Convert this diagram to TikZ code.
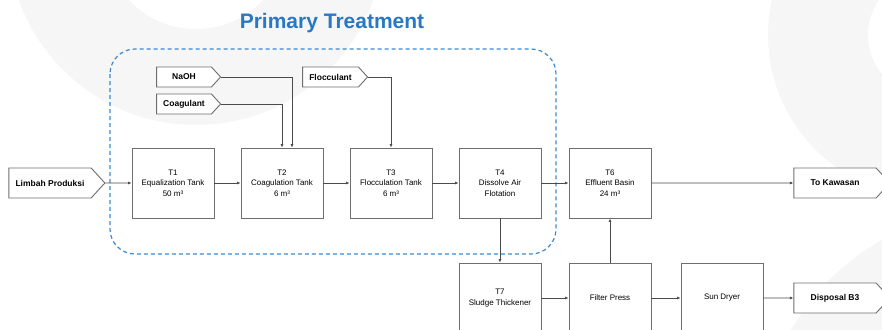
\documentclass[tikz,border=0pt]{standalone}
\usepackage{fontspec}
\setmainfont{Liberation Sans}
\usetikzlibrary{shapes.symbols,arrows.meta}

\begin{document}
\begin{tikzpicture}[x=1pt, y=-1pt, thick]

  % Define Colors
  \definecolor{bggray}{HTML}{F6F6F6}
  \definecolor{boxgray}{HTML}{6E6E6E}
  \definecolor{linegray}{HTML}{4A4A4A}
  \definecolor{ptblue}{HTML}{3B8AD0}
  \definecolor{titleblue}{HTML}{2878C4}

  % Node styles
  \tikzstyle{tank}=[rectangle, draw=boxgray, line width=0.9pt, fill=white, minimum width=82pt, minimum height=70pt, align=center, font=\fontsize{8}{10.5}\selectfont]
  \tikzstyle{feed}=[signal, signal to=east, signal pointer angle=95, draw=boxgray, line width=0.9pt, fill=white, inner sep=0pt, font=\bfseries\fontsize{8.5}{10}\selectfont]
  \tikzstyle{flow}=[line width=0.8pt, linegray, -{Latex[length=3.5pt,width=3pt]}]
  \tikzstyle{group}=[ptblue, line width=1.2pt, dash pattern=on 4pt off 3pt, rounded corners=25pt]

  \clip (0,0) rectangle (882,329);

  % Background
  \fill[bggray, even odd rule] (196,-63) circle (188) (196,-63) circle (92);
  \fill[bggray, even odd rule] (930,35) circle (162) (930,35) circle (62);
  \fill[bggray] (1000,450) circle (241);

  % Primary treatment group
  \draw[group] (110,49) rectangle (556,254);
  \node[titleblue, font=\bfseries\fontsize{21}{25}\selectfont] (title) at (332,23) {Primary Treatment};

  % Nodes
  \node[feed, minimum width=96pt, minimum height=30pt] (limbah) at (50,183) {Limbah Produksi};
  \node[feed, minimum width=64pt, minimum height=20pt] (naoh) at (184,77) {NaOH};
  \node[feed, minimum width=64pt, minimum height=20pt] (coag) at (184,104) {Coagulant};
  \node[feed, minimum width=65pt, minimum height=20pt] (floc) at (330.5,77) {Flocculant};

  \node[tank] (t1) at (173,183) {T1\\Equalization Tank\\50 m³};
  \node[tank] (t2) at (282,183) {T2\\Coagulation Tank\\6 m³};
  \node[tank] (t3) at (391,183) {T3\\Flocculation Tank\\6 m³};
  \node[tank] (t4) at (500,183) {T4\\Dissolve Air\\Flotation};
  \node[tank] (t6) at (610,183) {T6\\Effluent Basin\\24 m³};

  \node[tank] (t7) at (500,298) {T7\\Sludge Thickener};
  \node[tank] (press) at (610,298) {Filter Press};
  \node[tank] (dryer) at (722,298) {Sun Dryer};

  \node[feed, minimum width=96pt, minimum height=30pt] (kawasan) at (835,183) {To Kawasan};
  \node[feed, minimum width=96pt, minimum height=30pt] (b3) at (835,298) {Disposal B3};

  % Main line
  \draw[flow] (limbah) -- (t1);
  \draw[flow] (t1) -- (t2);
  \draw[flow] (t2) -- (t3);
  \draw[flow] (t3) -- (t4);
  \draw[flow] (t4) -- (t6);
  \draw[flow] (t6) -- (kawasan);

  % Chemicals
  \draw[flow] (naoh.east) -| ([xshift=10pt]t2.north);
  \draw[flow] (coag.east) -| (t2.north);
  \draw[flow] (floc.east) -| (t3.north);

  % Sludge line
  \draw[flow] (t4) -- (t7);
  \draw[flow] (t7) -- (press);
  \draw[flow] (press) -- (t6);
  \draw[flow] (press) -- (dryer);
  \draw[flow] (dryer) -- (b3);

\end{tikzpicture}
\end{document}
